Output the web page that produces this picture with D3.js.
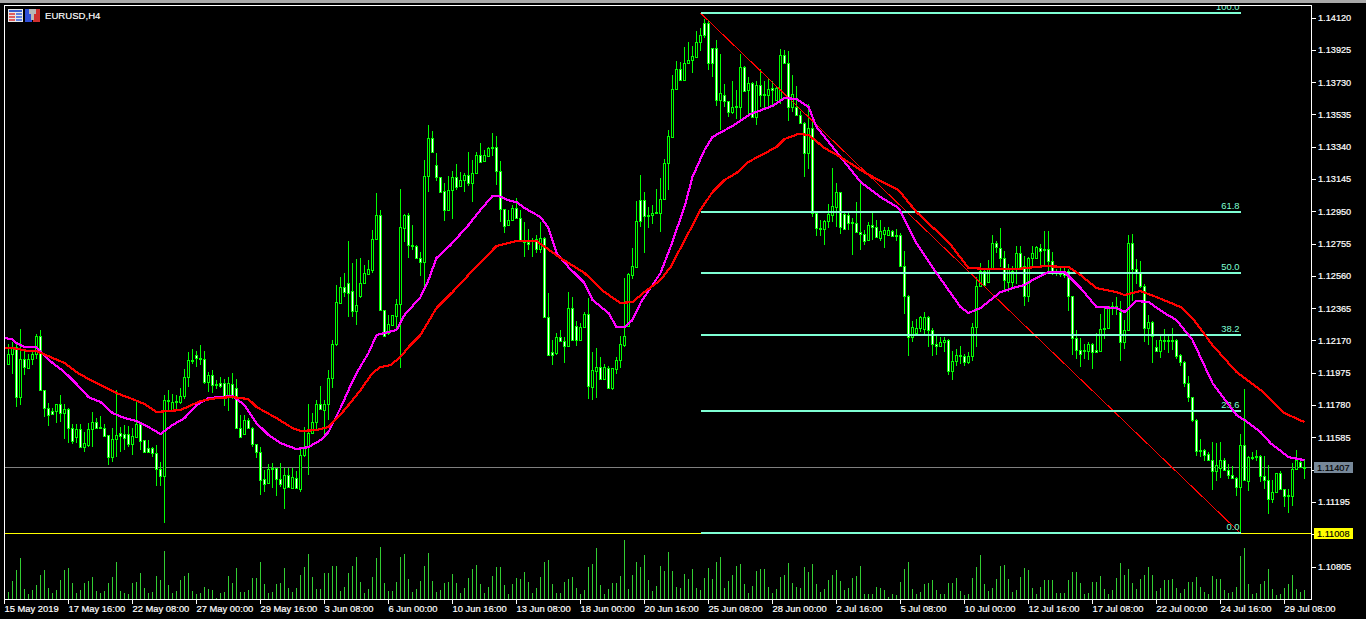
<!DOCTYPE html>
<html><head><meta charset="utf-8">
<style>html,body{margin:0;padding:0;background:#000;overflow:hidden}svg{display:block}text{font-family:"Liberation Sans",Arial,sans-serif}</style>
<script src="https://cdn.jsdelivr.net/npm/d3@7/dist/d3.min.js"></script></head><body>
<svg id="c" width="1366" height="619"></svg>
<script>
// Prices are given in points above 1.10000 (2092 = 1.12092)
const opens=[2032,2092,2132,1832,2062,2006,2062,2092,2202,1876,1768,1748,1746,1792,1736,1762,1642,1588,1636,1532,1542,1636,1678,1648,1642,1600,1468,1576,1612,1608,1606,1548,1592,1668,1572,1522,1522,1492,1396,1356,1816,1756,1806,1802,1836,1952,2052,2086,2068,2062,1922,1962,1912,1918,1916,1832,1912,1888,1646,1608,1692,1642,1546,1498,1336,1312,1402,1402,1336,1282,1362,1282,1342,1276,1480,1532,1612,1678,1792,1756,1792,1948,2152,2398,2498,2518,2474,2348,2444,2522,2574,2598,2788,2928,2358,2218,2268,2322,2392,2854,2932,2752,2744,2668,2648,3168,3394,3232,3162,3078,2958,3082,3162,3108,3142,3172,3122,3184,3292,3254,3288,3342,3342,3194,2966,2872,2902,2974,2914,2778,2768,2782,2788,2728,2794,2314,2104,2098,2192,2168,2138,2368,2262,2178,2252,2334,1894,1988,2014,1942,2008,1884,2002,2054,2148,2258,2568,2618,3024,3024,2922,2928,2940,2944,3028,3245,3401,3691,3815,3745,3849,3867,3887,3977,4091,4091,3937,3937,3625,3655,3617,3551,3589,3585,3825,3685,3727,3525,3717,3661,3657,3695,3625,3625,3895,3847,3581,3581,3533,3487,3305,3457,2941,2851,2845,2897,2933,2981,3067,2937,2931,2887,2885,2827,2815,2777,2869,2857,2793,2815,2811,2831,2811,2811,2621,2441,2191,2215,2251,2241,2317,2237,2153,2141,2161,2177,1991,2051,2087,2077,2041,2077,2257,2501,2591,2525,2611,2761,2730,2670,2524,2524,2604,2704,2620,2444,2670,2670,2734,2724,2724,2654,2588,2588,2578,2590,2440,2190,2118,2114,2108,2154,2114,2110,2240,2248,2370,2378,2344,2164,2234,2760,2604,2588,2504,2250,2284,2134,2110,2178,2178,2178,2174,2084,2044,1918,1830,1694,1510,1510,1490,1450,1384,1400,1450,1390,1358,1342,1290,1542,1324,1470,1478,1478,1354,1330,1218,1258,1370,1274,1238,1234,1394,1442,1400];
const closes=[2092,2132,1832,2062,2012,2062,2092,2202,1872,1768,1724,1728,1792,1736,1762,1642,1568,1636,1532,1552,1636,1678,1644,1644,1596,1472,1576,1602,1596,1584,1548,1596,1668,1568,1502,1502,1492,1396,1356,1816,1812,1802,1802,1838,1952,2052,2046,2068,2062,1922,1962,1902,1902,1896,1832,1916,1832,1646,1592,1692,1642,1546,1498,1332,1306,1396,1396,1336,1308,1362,1286,1346,1280,1482,1528,1612,1678,1792,1762,1792,1948,2152,2406,2498,2468,2462,2348,2388,2518,2578,2602,2788,2928,2358,2202,2274,2328,2392,2858,2932,2752,2744,2668,2648,3168,3394,3312,3162,3072,2962,3082,3162,3102,3144,3174,3122,3184,3292,3248,3292,3334,3334,3194,2966,2866,2902,2974,2914,2778,2768,2758,2772,2728,2794,2314,2084,2084,2192,2168,2142,2368,2178,2178,2254,2334,1898,1994,2014,1942,2012,1888,2004,2054,2152,2202,2574,2622,2892,2892,2922,2928,2944,2948,3028,3244,3405,3691,3815,3745,3851,3869,3891,3977,4017,4015,3847,3847,3625,3665,3617,3551,3585,3583,3825,3677,3727,3525,3717,3657,3657,3691,3685,3695,3895,3847,3581,3661,3533,3485,3305,3457,2945,2851,2845,2897,2937,2985,3067,2861,2847,2881,2881,2827,2815,2771,2869,2857,2797,2831,2837,2841,2805,2805,2621,2441,2191,2257,2251,2317,2317,2237,2153,2141,2161,2177,1991,2051,2087,2077,2041,2077,2257,2501,2591,2505,2611,2761,2737,2670,2538,2604,2594,2704,2614,2444,2670,2700,2738,2714,2718,2654,2588,2584,2574,2570,2440,2190,2118,2090,2108,2154,2104,2104,2244,2248,2378,2378,2370,2164,2238,2760,2604,2588,2504,2248,2284,2198,2110,2178,2170,2174,2172,2078,2044,1918,1830,1690,1504,1504,1484,1450,1384,1420,1450,1390,1358,1342,1290,1542,1330,1468,1464,1474,1354,1330,1218,1258,1370,1274,1234,1232,1398,1450,1408,1407];
const highs=[2152,2162,2162,2242,2112,2092,2112,2212,2236,1876,1796,1768,1792,1842,1792,1768,1668,1668,1668,1622,1672,1742,1702,1716,1668,1602,1642,1876,1652,1662,1656,1642,1802,1682,1572,1572,1532,1542,1438,1842,1872,1852,1842,1888,2002,2102,2122,2112,2148,2112,1982,1992,1932,1952,1942,1952,1976,1942,1722,1722,1702,1652,1546,1532,1392,1428,1432,1402,1432,1402,1402,1402,1382,1522,1652,1792,1732,1816,1896,1812,1996,2176,2507,2558,2578,2772,2638,2664,2668,2628,2658,2838,3064,2962,2358,2328,2328,2422,3088,2938,2944,2868,2752,2708,3262,3474,3438,3306,3162,3124,3168,3198,3238,3188,3184,3308,3262,3308,3368,3322,3342,3428,3408,3258,2968,2958,2988,3034,2958,2888,2848,2792,2808,2888,2798,2458,2178,2218,2238,2194,2468,2434,2288,2278,2342,2428,2104,2128,2074,2028,2018,2008,2074,2198,2548,2578,2732,3018,3172,3072,2978,2988,3088,3152,3268,3441,3777,3861,3855,3945,3977,3951,4041,4057,4112,4101,3941,3985,3901,3721,3621,3741,3685,3905,3831,3761,3731,3741,3811,3741,3751,3741,3711,3931,3927,3921,3777,3711,3561,3491,3601,3491,2941,2901,2901,2997,3217,3121,3071,2941,2941,2911,3011,3121,2841,2891,2941,2901,2901,2861,2857,2841,2845,2821,2711,2445,2291,2301,2321,2345,2321,2251,2201,2191,2191,2181,2111,2121,2141,2091,2101,2281,2557,2641,2601,2661,2811,2771,2850,2714,2634,2624,2744,2744,2684,2678,2744,2744,2754,2834,2834,2710,2604,2624,2624,2604,2444,2238,2190,2154,2164,2158,2218,2334,2378,2384,2404,2434,2414,2294,2810,2818,2664,2654,2514,2324,2290,2174,2204,2244,2204,2250,2184,2094,2048,1958,1834,1698,1578,1518,1498,1558,1554,1558,1464,1424,1414,1350,1608,1880,1474,1498,1514,1484,1474,1418,1328,1374,1384,1278,1278,1434,1514,1444,1458];
const lows=[2022,1972,1772,1782,1962,2002,2022,2062,1868,1712,1658,1722,1672,1682,1578,1552,1548,1552,1522,1502,1532,1532,1636,1636,1592,1418,1436,1472,1502,1512,1532,1482,1582,1512,1496,1496,1472,1296,1292,1068,1752,1752,1762,1788,1822,1892,2032,2012,2022,1912,1862,1856,1882,1888,1776,1748,1822,1642,1588,1602,1636,1532,1462,1242,1260,1308,1282,1236,1288,1156,1282,1276,1276,1256,1472,1362,1606,1632,1752,1592,1692,1888,2140,2394,2438,2314,2314,2264,2428,2518,2568,2578,2778,2354,2198,2208,2262,2238,2008,2768,2672,2718,2664,2564,2498,3072,3308,3134,3062,2894,2954,2908,3082,3098,3068,3108,3008,3178,3244,3248,3284,3288,3114,2888,2822,2868,2898,2908,2774,2678,2718,2678,2698,2698,2314,2078,2024,2088,2162,2038,2134,2174,2138,2174,2248,1818,1814,1828,1938,1938,1882,1874,1968,2008,2134,2258,2542,2614,2858,2702,2854,2878,2934,2828,3024,3081,3395,3685,3741,3741,3841,3785,3881,3921,4001,3805,3761,3591,3441,3581,3521,3541,3511,3505,3671,3541,3521,3471,3581,3571,3591,3591,3621,3601,3841,3501,3551,3531,3481,3161,3211,2921,2805,2801,2751,2851,2891,2857,2817,2837,2841,2687,2821,2717,2751,2771,2781,2791,2771,2731,2805,2797,2771,2617,2331,2081,2161,2211,2221,2211,2131,2077,2085,2131,2101,1965,1937,2021,2031,2021,2031,2051,2131,2501,2501,2521,2601,2701,2614,2474,2464,2484,2514,2604,2378,2404,2624,2664,2624,2624,2594,2570,2564,2558,2550,2350,2084,2058,2014,2058,2054,1998,2098,2104,2184,2244,2324,2324,2050,2124,2230,2414,2514,2490,2164,2144,2034,2104,2070,2114,2098,2118,2058,2020,1890,1804,1678,1474,1470,1444,1444,1270,1324,1344,1384,1334,1334,1234,1008,1324,1264,1454,1444,1318,1274,1124,1194,1254,1270,1170,1134,1174,1390,1404,1338];
const volumes=[7,18,29,41,10,5,9,14,24,29,11,6,9,19,29,31,16,6,9,16,18,22,8,6,8,16,22,37,8,6,5,16,17,26,11,6,7,23,19,48,14,6,8,19,23,26,8,5,6,12,10,9,1,6,7,23,16,31,7,7,9,21,21,37,15,6,7,15,16,31,11,7,11,24,32,45,22,10,10,26,26,33,33,8,12,26,33,42,17,6,10,22,41,52,16,8,8,17,42,45,20,7,10,18,33,46,18,7,9,16,17,25,16,6,11,21,30,34,15,6,12,23,32,32,14,5,15,21,20,27,17,6,11,22,37,39,15,6,6,17,20,22,11,5,9,32,35,51,14,5,10,16,16,23,59,10,24,37,32,44,19,8,13,33,28,47,28,12,11,25,20,30,11,9,21,31,20,37,42,11,18,24,33,35,15,6,13,28,30,30,12,6,10,22,24,36,16,12,11,32,27,35,15,7,10,19,24,29,18,9,11,21,23,33,5,5,5,12,11,9,2,5,4,17,30,37,10,5,7,15,16,19,9,5,5,16,16,21,8,4,5,21,32,44,15,8,11,20,33,34,20,7,9,22,31,29,11,5,12,19,19,19,6,6,6,19,27,27,16,5,6,17,17,23,10,5,9,21,36,24,30,16,10,20,24,32,24,8,11,19,19,20,11,6,10,17,17,22,12,7,5,23,20,20,9,6,7,12,43,51,15,5,6,15,18,30,10,4,5,11,15,24,10,7,9];
const fastBars=[-1,1,2,4,7,8,11,14,17,20,23,26,29,32,35,38,41,44,47,50,53,56,59,62,65,68,72,75,78,80,83,85,87,90,92,94,97,99,103,105,107,110.5,115,118,121,122.5,125.5,127,129,133,135,137,140,144,146,150,152,154,156,158,163,165.5,169,171,174,176,181,185.5,191,194,197,200,202,208,213,218,222.5,227,232,238,240,243,248,251,254,256,260,264,268,272,277,279,282,285,289,292,296,301,307,309,313,315.5,320,324];
const fastMA=[2187,2181,2157,2133,2133,2103,2037,1982,1910,1831,1801,1735,1704,1686,1650,1608,1662,1704,1783,1825,1831,1837,1783,1674,1602,1553,1517,1529,1571,1620,1765,1873,1976,2097,2206,2218,2236,2326,2435,2538,2671,2749,2870,2961,3045,3045,3015,3009,2973,2918,2852,2701,2616,2520,2417,2339,2254,2254,2296,2399,2580,2737,2979,3160,3323,3402,3468,3540,3589,3637,3631,3583,3462,3281,3130,3039,2973,2761,2580,2375,2339,2369,2465,2489,2508,2538,2586,2586,2490,2375,2369,2345,2411,2405,2338,2296,2176,1916,1722,1692,1620,1553,1469,1450];
const slowBars=[-1,1,5,7,11,14,17,20,24,27,31,34,37,43,48,52,56,60,62,67,71,73,77,80,84,88,91,93,95.5,98,100,103,107,111,118,122,127,132,138,144,149,153,156,159,163,165.5,170,173,176,179,182,185,192,194,197.5,200,204,208,213,217,222.5,227,235,240,246,252,259,265,268,272,277,279,283,287,293,296,301,307,314,319,324];
const slowMA=[2127,2127,2109,2109,2067,2037,1982,1940,1892,1855,1819,1789,1741,1753,1807,1825,1831,1819,1771,1704,1644,1626,1632,1650,1753,1873,1976,2012,2024,2073,2133,2206,2369,2465,2646,2743,2773,2773,2671,2580,2465,2399,2405,2465,2538,2616,2822,2961,3069,3142,3184,3251,3341,3389,3420,3414,3335,3281,3202,3148,3081,2948,2767,2610,2604,2604,2622,2616,2568,2489,2465,2447,2471,2435,2375,2308,2145,1982,1855,1734,1680];
const priceTicks=[1.1412,1.13925,1.1373,1.13535,1.1334,1.13145,1.1295,1.12755,1.1256,1.12365,1.1217,1.11975,1.1178,1.11585,1.1139,1.11195,1.11,1.10805];
const timeTickBars=[-1,15,31,47,63,79,95,111,127,143,159,175,191,207,223,239,255,271,287,303,319];
const timeLabels=["15 May 2019","17 May 16:00","22 May 08:00","27 May 00:00","29 May 16:00","3 Jun 08:00","6 Jun 00:00","10 Jun 16:00","13 Jun 08:00","18 Jun 00:00","20 Jun 16:00","25 Jun 08:00","28 Jun 00:00","2 Jul 16:00","5 Jul 08:00","10 Jul 00:00","12 Jul 16:00","17 Jul 08:00","22 Jul 00:00","24 Jul 16:00","29 Jul 08:00"];
const fibLevels=[0,23.6,38.2,50,61.8,100];
const fibLow=1.11008, fibHigh=1.1415, fibStartBar=173, fibEndBar=308;
const lastPrice=1.11407, lowPrice=1.11008;

const price=v=>1.10+v/1e5;
const x=d3.scaleLinear().domain([0,324]).range([8.5,1304.5]);
const y=d3.scaleLinear().domain([1.1412,1.10805]).range([18,567]);
const vol=d3.scaleLinear().domain([0,60]).range([599,539]);
const py=v=>Math.round(y(price(v)));
const GREEN="#00ff00",AQUA="#7fffd4",W="#fff";
const svg=d3.select("#c");
svg.append("rect").attr("width",1366).attr("height",619).attr("fill","#000");
svg.append("rect").attr("width",1366).attr("height",3).attr("fill","#a8a8a8");
const defs=svg.append("defs");
defs.append("clipPath").attr("id","plot").append("rect").attr("x",5).attr("y",6).attr("width",1306).attr("height",593);

const plot=svg.append("g").attr("clip-path","url(#plot)");
// volumes
plot.append("g").attr("shape-rendering","crispEdges").selectAll("line").data(volumes).join("line")
 .attr("x1",(d,i)=>x(i)).attr("x2",(d,i)=>x(i)).attr("y1",vol(0)).attr("y2",d=>vol(d))
 .attr("stroke","#32cd32").attr("stroke-width",1);
// last / low price lines
plot.append("line").attr("x1",5).attr("x2",1311).attr("y1",Math.round(y(lastPrice))+.5).attr("y2",Math.round(y(lastPrice))+.5).attr("stroke","#808080").attr("shape-rendering","crispEdges");
plot.append("line").attr("x1",5).attr("x2",1311).attr("y1",Math.round(y(lowPrice))+.5).attr("y2",Math.round(y(lowPrice))+.5).attr("stroke","#ffff00").attr("shape-rendering","crispEdges");
// candles
const bars=opens.map((o,i)=>({i,o,c:closes[i],h:highs[i],l:lows[i]}));
const cg=plot.append("g").attr("shape-rendering","crispEdges");
cg.selectAll("line").data(bars).join("line")
 .attr("x1",d=>x(d.i)).attr("x2",d=>x(d.i)).attr("y1",d=>py(d.h)).attr("y2",d=>py(d.l))
 .attr("stroke",GREEN).attr("stroke-width",1);
cg.selectAll("rect").data(bars).join("rect")
 .attr("x",d=>x(d.i)-1).attr("width",2)
 .attr("y",d=>py(Math.max(d.o,d.c))+.5)
 .attr("height",d=>Math.max(1,py(Math.min(d.o,d.c))-py(Math.max(d.o,d.c))))
 .attr("fill",d=>d.c>=d.o?"#000":W).attr("stroke",GREEN).attr("stroke-width",1);
// fib
const fibY=l=>y(fibLow+(fibHigh-fibLow)*l/100);
plot.append("line").attr("x1",x(fibStartBar)).attr("y1",fibY(100)).attr("x2",x(fibEndBar)).attr("y2",fibY(0))
 .attr("stroke","#ff0000").attr("stroke-width",1).attr("shape-rendering","crispEdges");
const fg=plot.append("g");
fg.selectAll("line").data(fibLevels).join("line")
 .attr("x1",x(fibStartBar)).attr("x2",x(fibEndBar)).attr("y1",d=>Math.round(fibY(d))).attr("y2",d=>Math.round(fibY(d)))
 .attr("stroke",AQUA).attr("stroke-width",2).attr("shape-rendering","crispEdges");
fg.selectAll("text").data(fibLevels).join("text")
 .attr("x",x(fibEndBar)-1).attr("y",d=>Math.round(fibY(d))-3).attr("text-anchor","end")
 .attr("font-size",9.4).attr("fill",AQUA).text(d=>d.toFixed(1));
// moving averages
const mkLine=(bs)=>d3.line().x((d,i)=>x(bs[i])).y(d=>y(price(d))).curve(d3.curveLinear);
plot.append("path").attr("d",mkLine(fastBars)(fastMA)).attr("fill","none").attr("stroke","#ff00ff").attr("stroke-width",2.2).attr("stroke-linejoin","round").attr("shape-rendering","crispEdges");
plot.append("path").attr("d",mkLine(slowBars)(slowMA)).attr("fill","none").attr("stroke","#ff0000").attr("stroke-width",2.2).attr("stroke-linejoin","round").attr("shape-rendering","crispEdges");

// frame
const fr=svg.append("g").attr("shape-rendering","crispEdges").attr("stroke",W).attr("stroke-width",1);
fr.append("line").attr("x1",4.5).attr("x2",4.5).attr("y1",5).attr("y2",600);
fr.append("line").attr("x1",1311.5).attr("x2",1311.5).attr("y1",5).attr("y2",600);
fr.append("line").attr("x1",4).attr("x2",1312).attr("y1",5.5).attr("y2",5.5);
fr.append("line").attr("x1",4).attr("x2",1312).attr("y1",599.5).attr("y2",599.5);

// axes
const yAxis=d3.axisRight(y).tickValues(priceTicks).tickFormat(d3.format(".5f")).tickSize(4).tickPadding(2).offset(0);
const yg=svg.append("g").attr("transform","translate(1312,0)").call(yAxis);
const xAxis=d3.axisBottom(x).tickValues(timeTickBars).tickFormat((d,i)=>timeLabels[i]).tickSize(4).offset(0);
const xg=svg.append("g").attr("transform","translate(0,600)").call(xAxis);
[yg,xg].forEach(g=>{g.select(".domain").remove();g.attr("font-family",null).attr("font-size",null);
 g.selectAll("line").attr("stroke",W).attr("shape-rendering","crispEdges");
 g.selectAll("text").attr("fill",W).attr("stroke",W).attr("stroke-width",.2);});
yg.selectAll("text").attr("font-size",9.2);
xg.selectAll("text").attr("font-size",9.4).attr("text-anchor","start").attr("y",12).attr("dy",0);

// price tags
const tag=(p,bg,label)=>{const c=Math.round(y(p));
 svg.append("rect").attr("x",1314).attr("y",c-5).attr("width",39).attr("height",11).attr("fill",bg);
 svg.append("text").attr("x",1317).attr("y",c+3.5).attr("font-size",9.2).attr("fill","#000").attr("stroke","#000").attr("stroke-width",.15).text(label);};
tag(lastPrice,"#778899",d3.format(".5f")(lastPrice));
tag(lowPrice,"#ffff00",d3.format(".5f")(lowPrice));

// header icons + title
const ic=svg.append("g").attr("shape-rendering","crispEdges");
ic.append("rect").attr("x",8).attr("y",9).attr("width",15).attr("height",13).attr("fill","#e8e8e8");
ic.append("rect").attr("x",9).attr("y",10).attr("width",13).attr("height",2).attr("fill","#3a5fd0");
[13,16,19].forEach(v=>{ic.append("rect").attr("x",9).attr("y",v).attr("width",6).attr("height",2).attr("fill","#e06060");
 ic.append("rect").attr("x",16).attr("y",v).attr("width",6).attr("height",2).attr("fill","#6080e0");});
ic.append("rect").attr("x",25).attr("y",9).attr("width",7).attr("height",13).attr("fill","#2f4fd8");
ic.append("rect").attr("x",33).attr("y",9).attr("width",7).attr("height",13).attr("fill","#d03030");
ic.append("rect").attr("x",29).attr("y",9).attr("width",7).attr("height",5).attr("fill","#b8b8b8");
ic.append("rect").attr("x",31).attr("y",14).attr("width",3).attr("height",6).attr("fill","#b8b8b8");
svg.append("text").attr("x",45).attr("y",18.5).attr("font-size",9.6).attr("fill",W).attr("stroke",W).attr("stroke-width",.15).text("EURUSD,H4");
</script></body></html>
